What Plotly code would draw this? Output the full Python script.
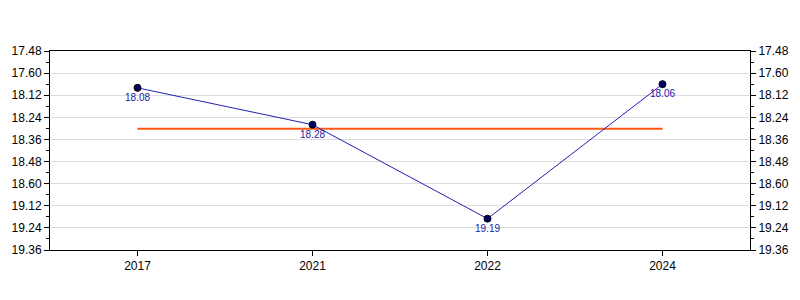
import plotly.graph_objects as go

years = ["2017", "2021", "2022", "2024"]
times_sec = [1088, 1108, 1159, 1086]
time_labels = ["18.08", "18.28", "19.19", "18.06"]
average_sec = 1110.25
tick_vals = [1068, 1080, 1092, 1104, 1116, 1128, 1140, 1152, 1164, 1176]
tick_text = ["17.48", "17.60", "18.12", "18.24", "18.36", "18.48", "18.60", "19.12", "19.24", "19.36"]

font = "Liberation Sans, Arial, sans-serif"

fig = go.Figure()
fig.add_trace(go.Scatter(
    x=years, y=times_sec, mode="markers", marker=dict(opacity=0),
    hoverinfo="skip", showlegend=False))
fig.add_trace(go.Scatter(
    x=[years[0], years[-1]], y=[average_sec, average_sec], mode="lines",
    line=dict(color="#ff5a14", width=2), hoverinfo="skip", showlegend=False))
fig.add_trace(go.Scatter(
    x=years, y=times_sec, mode="lines+markers+text", text=time_labels,
    textposition="bottom center", textfont=dict(family=font, size=10, color="#1a1aa0"),
    line=dict(color="#2020b0", width=1),
    marker=dict(color="#000066", size=7, line=dict(color="black", width=1)),
    showlegend=False))
# invisible trace for right axis
fig.add_trace(go.Scatter(x=years, y=times_sec, yaxis="y2", mode="markers",
                         marker=dict(opacity=0), hoverinfo="skip", showlegend=False))

yax = dict(range=[1176, 1068], tickvals=tick_vals, ticktext=tick_text,
           ticks="outside", ticklen=5, tickcolor="black", showline=True,
           linecolor="black", linewidth=1, tickfont=dict(family=font, size=12, color="black"),
           minor=dict(dtick=6, tick0=1068, ticks="outside", ticklen=3, tickcolor="black", showgrid=False),
           zeroline=False)

fig.update_layout(
    width=800, height=300,
    margin=dict(l=50, r=50, t=51, b=50),
    plot_bgcolor="white", paper_bgcolor="white",
    xaxis=dict(type="category", categoryorder="array", categoryarray=years,
               range=[-0.5, 3.5], showline=True, linecolor="black",
               linewidth=1, mirror=True, ticks="outside", ticklen=5, tickcolor="black",
               showgrid=False, tickfont=dict(family=font, size=12, color="black")),
    yaxis=dict(**yax, showgrid=True, gridcolor="#dddddd", gridwidth=1),
    yaxis2=dict(**yax, overlaying="y", side="right", showgrid=False),
)

fig.write_html("out.html")
